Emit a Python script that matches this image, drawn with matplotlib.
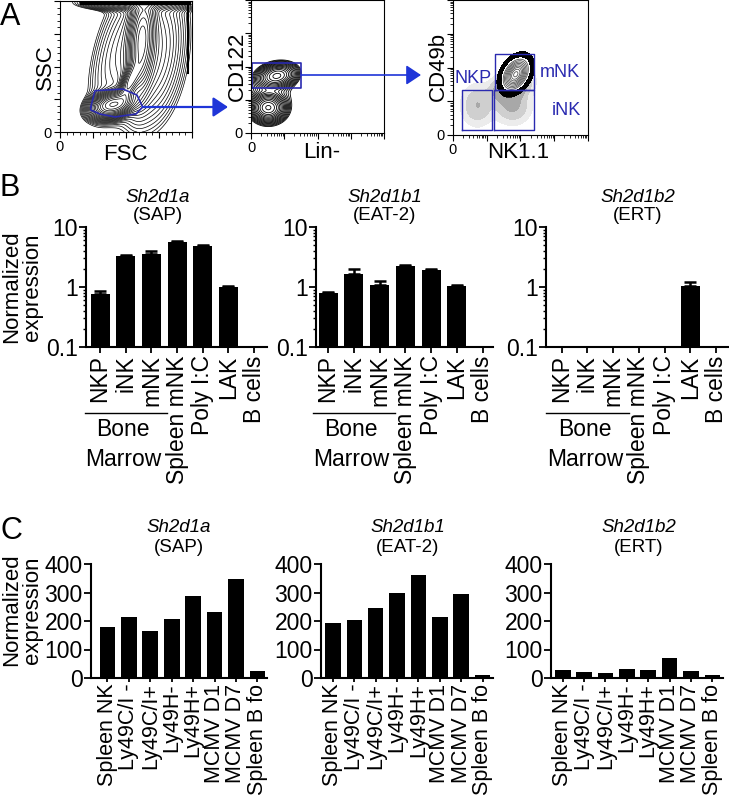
import numpy as np
import matplotlib
matplotlib.use('Agg')
import matplotlib.pyplot as plt
from matplotlib.ticker import LogLocator, NullFormatter, FixedLocator

plt.rcParams['font.family'] = ['Liberation Sans', 'DejaVu Sans']

# ---------------- data ----------------
cats_B = ['NKP', 'iNK', 'mNK', 'Spleen mNK', 'Poly I:C', 'LAK', 'B cells']
sap_B = [0.76, 3.3, 3.6, 5.6, 4.9, 1.01, 0]
sap_B_err = [0.09, 0.06, 0.38, 0.3, 0.1, 0.03, 0]
eat_B = [0.79, 1.67, 1.07, 2.24, 1.95, 1.03, 0]
eat_B_err = [0.02, 0.33, 0.17, 0.06, 0.07, 0.05, 0]
ert_B = [0, 0, 0, 0, 0, 1.03, 0]
ert_B_err = [0, 0, 0, 0, 0, 0.18, 0]

cats_C = ['Spleen NK', 'Ly49C/I -', 'Ly49C/I+', 'Ly49H-', 'Ly49H+',
          'MCMV D1', 'MCMV D7', 'Spleen B fo']
sap_C = [178, 213, 166, 208, 288, 232, 347, 23]
eat_C = [193, 205, 246, 299, 360, 214, 296, 12]
ert_C = [29, 21, 19, 30, 27, 69, 26, 12]

titles_gene = ['Sh2d1a', 'Sh2d1b1', 'Sh2d1b2']
titles_prot = ['(SAP)', '(EAT-2)', '(ERT)']

# flow-cytometry population models (centre x, centre y, sd x, sd y, corr, weight)
fsc_ssc_pops = [(0.40, 0.21, 0.08, 0.05, 0.3, 1.0),
                (0.53, 0.38, 0.045, 0.09, 0.7, 0.6),
                (0.62, 0.70, 0.05, 0.20, 0.25, 0.8),
                (0.68, 0.62, 0.14, 0.30, 0.2, 0.15),
                (0.40, 0.55, 0.12, 0.30, 0.5, 0.04),
                (0.60, 0.99, 0.20, 0.03, 0.0, 0.3)]
fsc_ssc_gate = [(0.233, 0.191), (0.265, 0.315), (0.477, 0.328), (0.583, 0.282),
                (0.626, 0.191), (0.576, 0.137), (0.417, 0.115), (0.303, 0.137),
                (0.233, 0.168)]
lin_cd122_pops = [(0.195, 0.43, 0.07, 0.045, 0.2, 1.0),
                  (0.13, 0.19, 0.06, 0.05, 0.0, 1.2),
                  (0.15, 0.28, 0.11, 0.13, 0.1, 0.08)]
lin_cd122_gate = (0.0075, 0.336, 0.376, 0.524)   # x0, y0, x1, y1
nk_mnk_pop = [(0.465, 0.45, 0.065, 0.078, 0.35, 1.0)]
nk_dot_pops = [(0.44, 0.22, 0.08, 0.08, 0.0, 0.35),
               (0.18, 0.22, 0.07, 0.09, 0.0, 0.3),
               (0.43, 0.36, 0.08, 0.06, 0.3, 0.9)]
nk_gates = {'NKP': (0.067, 0.037, 0.289, 0.333),
            'iNK': (0.304, 0.037, 0.60, 0.333),
            'mNK': (0.311, 0.333, 0.60, 0.60)}
nk_gate_labels = {'NKP': (0.148, 0.42), 'mNK': (0.79, 0.46), 'iNK': (0.84, 0.185)}

# ---------------- figure ----------------
W, H = 729, 798
fig = plt.figure(figsize=(W / 100, H / 100), dpi=100)
BLUE = '#2a2ab0'
ARROW = '#1f35d8'
FS = 16.5
FSC_LAB = 15.5


def add_ax(l, t, r, b):
    return fig.add_axes([l / W, 1 - b / H, (r - l) / W, (b - t) / H])


def ftext(x, y, s, **kw):
    fig.text(x / W, 1 - y / H, s, **kw)


def mixture(comps, n=300):
    g = np.linspace(0, 1, n)
    X, Y = np.meshgrid(g, g)
    Z = np.zeros_like(X)
    for (cx, cy, sx, sy, rho, w) in comps:
        dx = (X - cx) / sx
        dy = (Y - cy) / sy
        q = (dx * dx - 2 * rho * dx * dy + dy * dy) / (1 - rho ** 2)
        Z += w * np.exp(-0.5 * q)
    return X, Y, Z


def flow_style(ax, logish=True):
    ax.set_xlim(0, 1)
    ax.set_ylim(0, 1)
    for s in ax.spines.values():
        s.set_linewidth(0.8)
    majors = [0, 0.25, 0.5, 0.75, 1.0]
    if logish:
        minors = [0.25 * (k + np.log10(m)) for k in range(4) for m in range(2, 10)]
    else:
        minors = list(np.arange(0, 1.001, 0.05))
    for axis in (ax.xaxis, ax.yaxis):
        axis.set_major_locator(FixedLocator(majors))
        axis.set_minor_locator(FixedLocator(minors))
    ax.set_xticklabels(['0', '', '', '', ''])
    ax.set_yticklabels(['0', '', '', '', ''])
    ax.tick_params(which='major', length=4, width=0.8, labelsize=10.5, pad=2)
    ax.tick_params(which='minor', length=2, width=0.6)


# ---- Panel A ----
ftext(0, 2, 'A', fontsize=22, ha='left', va='top')

ax1 = add_ax(60, 1, 192, 132)
X, Y, Z = mixture(fsc_ssc_pops)
lv = Z.max() * np.geomspace(0.012, 0.95, 22)
ax1.contour(X, Y, Z, levels=lv, colors='black', linewidths=0.5)
ax1.plot([0.16, 0.98], [0.985, 0.985], color='black', lw=2.5)
ax1.plot([0.97, 0.97], [0.45, 0.985], color='black', lw=1.5)
gx, gy = zip(*(fsc_ssc_gate + [fsc_ssc_gate[0]]))
ax1.plot(gx, gy, color=BLUE, lw=1.2)
flow_style(ax1, logish=False)
ftext(45, 67, 'SSC', fontsize=16, rotation=90, ha='center', va='center')
ftext(125, 155, 'FSC', fontsize=16, ha='center', va='center')

ax2 = add_ax(251, 0, 384, 133)
X, Y, Z = mixture(lin_cd122_pops)
lv = Z.max() * np.geomspace(0.03, 0.95, 16)
ax2.contour(X, Y, Z, levels=lv, colors='black', linewidths=0.6)
x0, y0, x1, y1 = lin_cd122_gate
ax2.plot([x0, x1, x1, x0, x0], [y0, y0, y1, y1, y0], color=BLUE, lw=1.2)
flow_style(ax2)
ftext(237, 66, 'CD122', fontsize=16, rotation=90, ha='center', va='center')
ftext(322, 152, 'Lin-', fontsize=16, ha='center', va='center')

ax3 = add_ax(453, 0, 588, 135)
X, Y, Zd = mixture(nk_dot_pops)
ax3.contourf(X, Y, Zd, levels=[0.06, 0.15, 0.3, 0.6, 10],
             colors=['#ececec', '#cfcfcf', '#a8a8a8', '#2a2a2a'])
X, Y, Zm = mixture(nk_mnk_pop)
ax3.contourf(X, Y, Zm, levels=[0.1, 10], colors=['black'])
ax3.contourf(X, Y, Zm, levels=[0.3, 10], colors=['white'])
ax3.contour(X, Y, Zm, levels=np.linspace(0.36, 0.97, 9), colors='#555555', linewidths=0.6)
for name, (a0, b0, a1, b1) in nk_gates.items():
    ax3.plot([a0, a1, a1, a0, a0], [b0, b0, b1, b1, b0], color=BLUE, lw=1.0)
for name, (lx, ly) in nk_gate_labels.items():
    ax3.text(lx, ly, name, color=BLUE, fontsize=13, ha='center', va='center')
flow_style(ax3)
ftext(438, 66, 'CD49b', fontsize=16, rotation=90, ha='center', va='center')
ftext(518, 152, 'NK1.1', fontsize=16, ha='center', va='center')

aprops1 = dict(arrowstyle='-|>,head_length=0.45,head_width=0.3', color=ARROW,
               lw=1.6, mutation_scale=20, shrinkA=0, shrinkB=0)
fig.add_artist(matplotlib.patches.FancyArrowPatch((143, H - 107), (228, H - 107),
               transform=None, **aprops1))
aprops2 = dict(arrowstyle='-|>,head_length=0.45,head_width=0.3', color=ARROW,
               lw=1.2, mutation_scale=20, shrinkA=0, shrinkB=0)
fig.add_artist(matplotlib.patches.FancyArrowPatch((301, H - 75), (421, H - 75),
               transform=None, **aprops2))

# ---- Panel B ----
ftext(0, 173, 'B', fontsize=22, ha='left', va='top')
B_px = [(86, 227, 267, 347), (316, 227, 493, 347), (546, 227, 729, 347)]
B_xl = [(-0.55, 6.5), (-0.47, 6.4), (-0.61, 6.5)]
B_vals = [(sap_B, sap_B_err), (eat_B, eat_B_err), (ert_B, ert_B_err)]
B_title_x = [158, 385, 638]

for i in range(3):
    ax = add_ax(*B_px[i])
    vals, errs = B_vals[i]
    xs = [k for k, v in enumerate(vals) if v > 0]
    hv = [vals[k] for k in xs]
    ev = [errs[k] for k in xs]
    ax.bar(xs, hv, width=0.74, color='black', zorder=2,
           yerr=[np.zeros(len(ev)), ev],
           error_kw=dict(ecolor='black', elinewidth=1.8, capsize=4.5, capthick=1.8))
    ax.set_yscale('log')
    ax.set_ylim(0.1, 10)
    ax.set_xlim(*B_xl[i])
    ax.set_yticks([0.1, 1, 10])
    ax.set_yticklabels(['0.1', '1', '10'])
    ax.yaxis.set_minor_locator(LogLocator(base=10, subs=np.arange(2, 10)))
    ax.yaxis.set_minor_formatter(NullFormatter())
    ax.set_xticks(range(len(cats_B)))
    ax.set_xticklabels(cats_B, rotation=90, fontsize=FS)
    ax.tick_params(axis='y', which='major', labelsize=FS, length=5, width=1.3, pad=1)
    ax.tick_params(axis='y', which='minor', length=2.5, width=1.0)
    ax.tick_params(axis='x', length=4, width=1.3, pad=2)
    for s in ['top', 'right']:
        ax.spines[s].set_visible(False)
    for s in ['left', 'bottom']:
        ax.spines[s].set_linewidth(1.5)
    # Bone marrow bracket
    ax.plot([-0.6, 2.6], [-0.55, -0.55], color='black', lw=1.0,
            transform=ax.get_xaxis_transform(), clip_on=False)
    ax.text(0.9, -0.69, 'Bone', fontsize=FS, ha='center', va='center',
            transform=ax.get_xaxis_transform())
    ax.text(0.9, -0.94, 'Marrow', fontsize=FS, ha='center', va='center',
            transform=ax.get_xaxis_transform())
    ftext(B_title_x[i], 197, titles_gene[i], fontsize=13.5, style='italic', ha='center', va='center')
    ftext(B_title_x[i], 216, titles_prot[i], fontsize=13.5, ha='center', va='center')

ftext(22, 287, 'Normalized\nexpression', fontsize=16, rotation=90,
      ha='center', va='center', linespacing=1.0)

# ---- Panel C ----
ftext(0, 516, 'C', fontsize=22, ha='left', va='top')
C_px = [(91, 564, 267, 678), (321, 564, 493, 678), (551, 564, 723, 678)]
C_xl = [(-0.77, 7.45), (-0.56, 7.49), (-0.55, 7.5)]
C_vals = [sap_C, eat_C, ert_C]
C_title_x = [179, 408, 639]

for i in range(3):
    ax = add_ax(*C_px[i])
    ax.bar(range(len(cats_C)), C_vals[i], width=0.73, color='black', zorder=2)
    ax.set_ylim(0, 400)
    ax.set_xlim(*C_xl[i])
    ax.set_yticks([0, 100, 200, 300, 400])
    ax.set_xticks(range(len(cats_C)))
    ax.set_xticklabels(cats_C, rotation=90, fontsize=FSC_LAB)
    ax.tick_params(axis='y', labelsize=FS, length=5, width=1.3, pad=1)
    ax.tick_params(axis='x', length=3, width=1.3, pad=1)
    for s in ['top', 'right']:
        ax.spines[s].set_visible(False)
    for s in ['left', 'bottom']:
        ax.spines[s].set_linewidth(1.5)
    ftext(C_title_x[i], 528, titles_gene[i], fontsize=13.5, style='italic', ha='center', va='center')
    ftext(C_title_x[i], 547, titles_prot[i], fontsize=13.5, ha='center', va='center')

ftext(22, 610, 'Normalized\nexpression', fontsize=16, rotation=90,
      ha='center', va='center', linespacing=1.0)

fig.savefig('out.png', dpi=100)
